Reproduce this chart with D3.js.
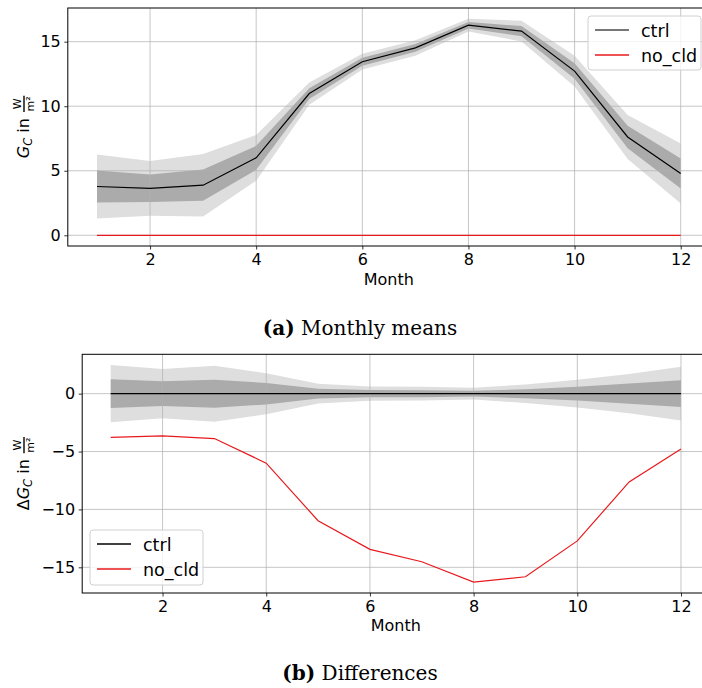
<!DOCTYPE html>
<html>
<head>
<meta charset="utf-8">
<script src="https://cdn.jsdelivr.net/npm/d3@7"></script>
<style>
  html, body { margin: 0; padding: 0; background: #fff; }
  svg { display: block; }
  .tick-label { font-family: "DejaVu Sans", sans-serif; font-size: 16px; fill: #000; }
  .legend-label { font-family: "DejaVu Sans", sans-serif; font-size: 17.5px; fill: #000; }
  .caption { font-family: "DejaVu Serif", serif; font-size: 20px; fill: #000; }
</style>
</head>
<body>
<svg id="chart" width="702" height="688"></svg>
<script>
// Monthly values (W/m²)
const months = [1, 2, 3, 4, 5, 6, 7, 8, 9, 10, 11, 12];
const ctrlMean = [3.78, 3.64, 3.88, 6.00, 10.98, 13.45, 14.52, 16.28, 15.82, 12.72, 7.62, 4.79];
const noCldMean = [0, 0, 0, 0, 0, 0, 0, 0, 0, 0, 0, 0];
// spread of the ctrl ensemble: inner (1σ) and outer (2σ) band half-widths
const ctrlSpreadInner = [1.24, 1.07, 1.21, 0.93, 0.42, 0.31, 0.30, 0.25, 0.39, 0.60, 0.87, 1.16];
const ctrlSpreadOuter = [2.48, 2.12, 2.42, 1.77, 0.86, 0.61, 0.60, 0.50, 0.80, 1.20, 1.70, 2.32];
// differences relative to ctrl
const ctrlDiff = [0, 0, 0, 0, 0, 0, 0, 0, 0, 0, 0, 0];
const noCldDiff = [-3.78, -3.64, -3.88, -6.00, -10.98, -13.45, -14.52, -16.28, -15.82, -12.72, -7.62, -4.79];

const xTicks = [2, 4, 6, 8, 10, 12];
const yTicksTop = [0, 5, 10, 15];
const yTicksBottom = [-15, -10, -5, 0];
const seriesNames = ["ctrl", "no_cld"];
const seriesColors = ["#000000", "#e8191c"];

const svg = d3.select("#chart");
const fmt = v => (v < 0 ? "\u2212" + Math.abs(v) : String(v));

function drawPanel(opt) {
  const { left, right, top, bottom, xDomain, yDomain, yTicks } = opt;
  const x = d3.scaleLinear().domain(xDomain).range([left, right]);
  const y = d3.scaleLinear().domain(yDomain).range([bottom, top]);
  const g = svg.append("g");

  const clipId = "clip" + opt.id;
  svg.append("clipPath").attr("id", clipId)
    .append("rect").attr("x", left).attr("y", top)
    .attr("width", right - left).attr("height", bottom - top);
  const plot = g.append("g").attr("clip-path", `url(#${clipId})`);

  // uncertainty bands
  const outer = d3.area().x((d, i) => x(months[i]))
    .y0((d, i) => y(d - ctrlSpreadOuter[i])).y1((d, i) => y(d + ctrlSpreadOuter[i]));
  const inner = d3.area().x((d, i) => x(months[i]))
    .y0((d, i) => y(d - ctrlSpreadInner[i])).y1((d, i) => y(d + ctrlSpreadInner[i]));
  plot.append("path").datum(opt.bandCenter).attr("d", outer).attr("fill", "#dedede");
  plot.append("path").datum(opt.bandCenter).attr("d", inner).attr("fill", "#ababab");

  // grid
  plot.append("g").selectAll("line").data(xTicks).join("line")
    .attr("x1", d => x(d)).attr("x2", d => x(d)).attr("y1", top).attr("y2", bottom)
    .attr("stroke", "#b0b0b0").attr("stroke-width", 0.9).attr("stroke-opacity", 0.8);
  plot.append("g").selectAll("line").data(yTicks).join("line")
    .attr("y1", d => y(d)).attr("y2", d => y(d)).attr("x1", left).attr("x2", right)
    .attr("stroke", "#b0b0b0").attr("stroke-width", 0.9).attr("stroke-opacity", 0.8);

  // series lines
  const line = d3.line().x((d, i) => x(months[i])).y(d => y(d));
  opt.series.forEach((s, k) => {
    plot.append("path").datum(s).attr("d", line)
      .attr("fill", "none").attr("stroke", seriesColors[k]).attr("stroke-width", 1.2);
  });

  // axes
  const xAxis = d3.axisBottom(x).tickValues(xTicks).tickSize(3.5).tickPadding(3.5).tickFormat(d => d);
  const yAxis = d3.axisLeft(y).tickValues(yTicks).tickSize(3.5).tickPadding(3.5).tickFormat(fmt);
  const xa = g.append("g").attr("transform", `translate(0,${bottom})`).call(xAxis);
  const ya = g.append("g").attr("transform", `translate(${left},0)`).call(yAxis);
  [xa, ya].forEach(a => {
    a.select(".domain").remove();
    a.selectAll(".tick line").attr("stroke", "#000").attr("stroke-width", 0.8);
    a.selectAll(".tick text").attr("class", "tick-label").attr("font-size", null).attr("font-family", null);
  });
  xa.selectAll(".tick text").attr("dy", "0.74em");

  // frame
  g.append("rect").attr("x", left).attr("y", top)
    .attr("width", right - left).attr("height", bottom - top)
    .attr("fill", "none").attr("stroke", "#000").attr("stroke-width", 1);

  // axis title
  g.append("text").attr("class", "tick-label").attr("text-anchor", "middle")
    .attr("x", (left + right) / 2).attr("y", bottom + opt.xTitleGap).text("Month");

  // y-axis title with fraction units
  yTitle(g, 28.5, (top + bottom) / 2, opt.prefix);

  // legend
  const L = opt.legend;
  const lg = g.append("g");
  lg.append("rect").attr("x", L.x).attr("y", L.y).attr("width", L.w).attr("height", L.h)
    .attr("rx", 3).attr("fill", "#fff").attr("fill-opacity", 0.8)
    .attr("stroke", "#d0d0d0").attr("stroke-width", 1);
  seriesNames.forEach((name, k) => {
    const cy = L.y + 14 + k * 25;
    lg.append("line").attr("x1", L.x + 7).attr("x2", L.x + 41).attr("y1", cy).attr("y2", cy)
      .attr("stroke", k === 0 ? L.ctrlColor : seriesColors[k]).attr("stroke-width", 1.3);
    lg.append("text").attr("class", "legend-label").attr("x", L.x + 53).attr("y", cy + 6.5).text(name);
  });
}

function yTitle(parent, bx, cy, prefix) {
  const g = parent.append("g").attr("transform", `translate(${bx},${cy}) rotate(-90)`);
  const inner = g.append("g");
  let cx = 0;
  const add = (txt, attrs) => {
    const t = inner.append("text").attr("x", cx).attr("y", attrs.dy || 0)
      .attr("font-family", "DejaVu Sans").attr("font-size", attrs.size || 16)
      .attr("font-style", attrs.italic ? "italic" : "normal").text(txt);
    cx += t.node().getComputedTextLength() + (attrs.after || 0);
    return t;
  };
  if (prefix) add(prefix, {});
  add("G", { italic: true });
  add("C", { italic: true, size: 11.5, dy: 3 });
  add("\u00a0in\u00a0", {});
  // fraction W / m²
  const fx = cx + 1;
  const w1 = inner.append("text").attr("font-family", "DejaVu Sans").attr("font-size", 11)
    .attr("y", -7.5).text("W");
  const w2 = inner.append("text").attr("font-family", "DejaVu Sans").attr("font-size", 11)
    .attr("y", 5).text("m\u00b2");
  const a = w1.node().getComputedTextLength(), b = w2.node().getComputedTextLength();
  const fw = Math.max(a, b) + 1;
  w1.attr("x", fx + (fw - a) / 2);
  w2.attr("x", fx + (fw - b) / 2);
  inner.append("line").attr("x1", fx).attr("x2", fx + fw).attr("y1", -4.5).attr("y2", -4.5)
    .attr("stroke", "#000").attr("stroke-width", 1.4);
  const total = fx + fw;
  inner.attr("transform", `translate(${-total / 2},0)`);
}

// (a) Monthly means
drawPanel({
  id: "a", left: 67.8, right: 709.9, top: 8, bottom: 246,
  xDomain: [0.45, 12.55], yDomain: [-0.83, 17.61], yTicks: yTicksTop,
  bandCenter: ctrlMean, series: [ctrlMean, noCldMean], prefix: "",
  xTitleGap: 39,
  legend: { x: 588, y: 16, w: 113, h: 54, ctrlColor: "#4a4a4a" }
});

// (b) Differences
drawPanel({
  id: "b", left: 82.2, right: 709.5, top: 354.3, bottom: 593,
  xDomain: [0.45, 12.55], yDomain: [-17.22, 3.4], yTicks: yTicksBottom,
  bandCenter: ctrlDiff, series: [ctrlDiff, noCldDiff], prefix: "\u0394",
  xTitleGap: 38,
  legend: { x: 90, y: 530, w: 113, h: 55, ctrlColor: "#000" }
});

// captions
const cap = (y, tag, rest) => {
  const t = svg.append("text").attr("class", "caption").attr("x", 360).attr("y", y)
    .attr("text-anchor", "middle");
  t.append("tspan").attr("font-weight", "bold").text(tag);
  t.append("tspan").text(" " + rest);
};
cap(334.5, "(a)", "Monthly means");
cap(680, "(b)", "Differences");
</script>
</body>
</html>
